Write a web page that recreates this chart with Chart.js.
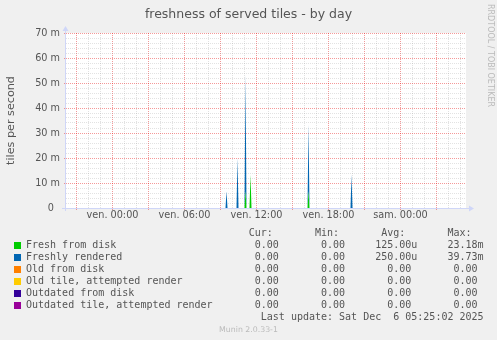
<!DOCTYPE html>
<html>
<head>
<meta charset="utf-8">
<script src="https://cdn.jsdelivr.net/npm/chart.js@4/dist/chart.umd.min.js"></script>
<style>
html,body{margin:0;padding:0;background:#F0F0F0;}
#wrap{position:relative;width:497px;height:340px;overflow:hidden;background:#F0F0F0;}
#c{position:absolute;left:0;top:0;}
#title{position:absolute;left:0;top:6px;width:497px;text-align:center;font-family:'DejaVu Sans',sans-serif;font-size:12.5px;line-height:15px;color:#555;white-space:nowrap;}
#legend{position:absolute;left:26px;top:227px;margin:0;font-family:'DejaVu Sans Mono',monospace;font-size:10px;line-height:12px;color:#555;white-space:pre;}
.sw{position:absolute;width:7px;height:7px;left:13.5px;}
#munin{position:absolute;left:0;top:324.6px;width:497px;text-align:center;font-family:'DejaVu Sans',sans-serif;font-size:7.8px;line-height:10px;color:#BBBBBB;white-space:nowrap;}
#rrd{position:absolute;left:494.6px;top:4px;transform:rotate(90deg);transform-origin:0 0;font-family:'DejaVu Sans',sans-serif;font-size:8px;line-height:10px;color:#BBBBBB;white-space:nowrap;}
</style>
</head>
<body>
<div id="wrap">
  <canvas id="c" width="497" height="340"></canvas>
  <div id="title">freshness of served tiles - by day</div>
  <pre id="legend"></pre>
  <div id="munin">Munin 2.0.33-1</div>
  <div id="rrd">RRDTOOL / TOBI OETIKER</div>
</div>
<script>
// ---------------- data ----------------
const seriesNames = ['Fresh from disk', 'Freshly rendered', 'Old from disk',
  'Old tile, attempted render', 'Outdated from disk', 'Outdated tile, attempted render'];
const seriesColors = ['#00CC00', '#0066B3', '#FF8000', '#FFCC00', '#330099', '#990099'];

// 5-minute samples that are non-zero (Friday, hh:mm); all other samples are 0
const spikeTimes = ['09:30', '10:25', '11:05', '11:30', '16:20', '19:55'];
// tiles per second at those samples
const freshFromDisk     = [0,       0,    0.00667, 0.01333, 0.00667, 0];
const freshlyRendered   = [0.00667, 0.02, 0.04667, 0,       0.02667, 0.01333];
const oldFromDisk       = [0, 0, 0, 0, 0, 0];
const oldAttempted      = [0, 0, 0, 0, 0, 0];
const outdatedFromDisk  = [0, 0, 0, 0, 0, 0];
const outdatedAttempted = [0, 0, 0, 0, 0, 0];

const curValues = ['0.00', '0.00', '0.00', '0.00', '0.00', '0.00'];
const minValues = ['0.00', '0.00', '0.00', '0.00', '0.00', '0.00'];
const avgValues = ['125.00u', '250.00u', '0.00', '0.00', '0.00', '0.00'];
const maxValues = ['23.18m', '39.73m', '0.00', '0.00', '0.00', '0.00'];
const lastUpdate = 'Last update: Sat Dec  6 05:25:02 2025';

// x axis: hours relative to Friday 00:00
const xTickHours  = [0, 6, 12, 18, 24];
const xTickLabels = ['ven. 00:00', 'ven. 06:00', 'ven. 12:00', 'ven. 18:00', 'sam. 00:00'];
// y axis (tiles per second)
const yTickValues = [0, 0.01, 0.02, 0.03, 0.04, 0.05, 0.06, 0.07];
const yTickLabels = ['0', '10 m', '20 m', '30 m', '40 m', '50 m', '60 m', '70 m'];

// ---------------- build ----------------
const STEP = 5 / 60;                 // one sample = 5 minutes (hours)
const X_MIN = -3.875;                // Thu 20:07:30
const X_MAX = X_MIN + 400 * STEP;    // 400 samples shown
const Y_MAX = yTickValues[yTickValues.length - 1];

function toHours(s) { const p = s.split(':').map(Number); return p[0] + p[1] / 60; }
function series(vals) {
  const out = [{x: X_MIN, y: 0}];
  spikeTimes.forEach((t, i) => {
    const h = toHours(t);
    out.push({x: h - STEP, y: 0}, {x: h, y: vals[i]}, {x: h + STEP, y: 0});
  });
  out.push({x: X_MAX, y: 0});
  return out;
}
const allSeries = [freshFromDisk, freshlyRendered, oldFromDisk, oldAttempted, outdatedFromDisk, outdatedAttempted];

// legend text (monospace character grid)
function putRight(line, s, endCol) { while (line.length < endCol - s.length) line += ' '; return line + s; }
function withUnit(v) { return /[a-zA-Z]$/.test(v) ? v : v + ' '; }
let lines = [];
let hdr = '';
hdr = putRight(hdr, 'Cur:', 41); hdr = putRight(hdr, 'Min:', 52);
hdr = putRight(hdr, 'Avg:', 63); hdr = putRight(hdr, 'Max:', 74);
lines.push(hdr);
seriesNames.forEach((n, i) => {
  let l = n;
  l = putRight(l, withUnit(curValues[i]), 43);
  l = putRight(l, withUnit(minValues[i]), 54);
  l = putRight(l, withUnit(avgValues[i]), 65);
  l = putRight(l, withUnit(maxValues[i]), 76);
  lines.push(l);
});
lines.push(putRight('', lastUpdate, 76));
document.getElementById('legend').textContent = lines.join('\n');
const wrap = document.getElementById('wrap');
seriesColors.forEach((c, i) => {
  const d = document.createElement('div');
  d.className = 'sw';
  d.style.background = c;
  d.style.top = (241.8 + 12 * i) + 'px';
  wrap.appendChild(d);
});

// ---------------- chart ----------------
const MAJOR = 'rgba(229,0,0,0.40)';
const MINOR = 'rgba(143,143,143,0.26)';
const AXIS = '#CFD6F8';
const TXT = '#555555';
Chart.defaults.font.family = "'DejaVu Sans', sans-serif";

const decor = {
  id: 'decor',
  beforeDraw(chart) {
    const {ctx, chartArea: a} = chart;
    ctx.save();
    ctx.fillStyle = '#FFFFFF';
    ctx.fillRect(a.left, a.top, a.right - a.left, a.bottom - a.top);
    ctx.restore();
  },
  afterDraw(chart) {
    const {ctx, chartArea: a} = chart;
    ctx.save();
    ctx.strokeStyle = AXIS; ctx.fillStyle = AXIS; ctx.lineWidth = 1;
    const xa = a.left - 0.5, ya = a.bottom + 0.5;
    ctx.beginPath(); ctx.moveTo(xa, a.bottom + 3); ctx.lineTo(xa, a.top - 3); ctx.stroke();
    ctx.beginPath(); ctx.moveTo(xa - 3, a.top - 2); ctx.lineTo(xa + 3, a.top - 2); ctx.lineTo(xa, a.top - 7); ctx.closePath(); ctx.fill();
    ctx.beginPath(); ctx.moveTo(a.left - 4, ya); ctx.lineTo(a.right + 3, ya); ctx.stroke();
    ctx.beginPath(); ctx.moveTo(a.right + 3, ya - 3); ctx.lineTo(a.right + 3, ya + 3); ctx.lineTo(a.right + 8, ya); ctx.closePath(); ctx.fill();
    ctx.restore();
  }
};

const isMajorX = c => !!c.tick && Math.abs(Math.round(c.tick.value)) % 3 === 0;
const yIdx = c => c.tick ? Math.round(c.tick.value / 0.002) : -1;

new Chart(document.getElementById('c'), {
  type: 'line',
  data: {
    datasets: allSeries.map((vals, i) => ({
      label: seriesNames[i],
      data: series(vals),
      backgroundColor: seriesColors[i],
      borderColor: seriesColors[i],
      borderWidth: 0,
      pointRadius: 0,
      tension: 0,
      fill: i === 0 ? 'origin' : '-1'
    }))
  },
  options: {
    responsive: false,
    animation: false,
    devicePixelRatio: 1,
    layout: {padding: {left: 0, right: 31, top: 33, bottom: 110}},
    plugins: {legend: {display: false}, tooltip: {enabled: false}, title: {display: false}},
    scales: {
      x: {
        type: 'linear', min: X_MIN, max: X_MAX, offset: false,
        afterBuildTicks: s => {
          const t = [];
          for (let h = Math.ceil(X_MIN); h <= Math.floor(X_MAX); h++) t.push({value: h});
          s.ticks = t;
        },
        afterFit: s => { s.height = 22; },
        grid: {
          color: c => isMajorX(c) ? MAJOR : MINOR,
          lineWidth: 1, drawTicks: true, tickLength: 2,
          tickColor: c => isMajorX(c) ? MAJOR : 'rgba(0,0,0,0)'
        },
        border: {display: false, dash: [1, 1]},
        ticks: {
          autoSkip: false, maxRotation: 0, minRotation: 0, padding: 0,
          color: TXT, font: {size: 9.7},
          callback: v => { const k = xTickHours.indexOf(Math.round(v)); return k >= 0 ? xTickLabels[k] : ''; }
        }
      },
      y: {
        type: 'linear', min: 0, max: Y_MAX, stacked: true,
        afterBuildTicks: s => {
          const t = [];
          for (let i = 0; i <= 35; i++) t.push({value: i * 0.002});
          s.ticks = t;
        },
        afterFit: s => { s.width = 66; },
        grid: {
          color: c => yIdx(c) % 5 === 0 ? MAJOR : MINOR,
          lineWidth: 1, drawTicks: true, tickLength: 2,
          tickColor: c => yIdx(c) % 5 === 0 ? MAJOR : 'rgba(0,0,0,0)'
        },
        border: {display: false, dash: [1, 1]},
        ticks: {
          autoSkip: false,
          padding: 4, color: TXT, font: {size: 9.7},
          callback: v => {
            const i = Math.round(v / 0.002);
            if (i % 5 !== 0) return '';
            const lab = yTickLabels[i / 5];
            return lab === '0' ? '0  ' : lab;
          }
        },
        title: {display: true, text: 'tiles per second', color: TXT, font: {size: 11.2}, padding: {top: 4.3, bottom: 0}}
      }
    }
  },
  plugins: [decor]
});
</script>
</body>
</html>
